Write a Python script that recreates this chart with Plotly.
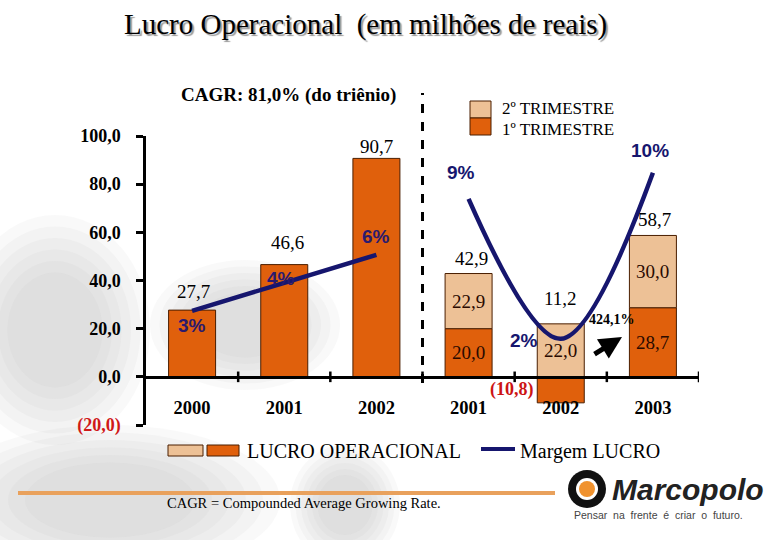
import plotly.graph_objects as go

# ---------------- data ----------------
cat_labels = ["2000", "2001", "2002", "2001", "2002", "2003"]
annual_x = [0, 1, 2]
annual_vals = [27.7, 46.6, 90.7]
h1_x = [3, 4, 5]
q1_vals = [20.0, -10.8, 28.7]      # 1º trimestre
q2_vals = [22.9, 22.0, 30.0]       # 2º trimestre
h1_totals = [42.9, 11.2, 58.7]
margin_annual = [3.3, 4.7, 6.1]
margin_h1 = [8.9, 1.9, 10.2]
margin_annual_lbl = ["3%", "4%", "6%"]
margin_h1_lbl = ["9%", "2%", "10%"]
ytick_vals = [-20, 0, 20, 40, 60, 80, 100]
ytick_text = ['<span style="color:#d01818">(20,0)</span>', "0,0", "20,0", "40,0", "60,0", "80,0", "100,0"]

def br(v):
    s = f"{abs(v):.1f}".replace(".", ",")
    return f"({s})" if v < 0 else s

# ---------------- geometry helpers ----------------
W, H = 780, 540
L, R, T, B = 146, 81, 136, 115
PW, PH = W - L - R, H - T - B
YMIN, YMAX = -20, 100
PX_PER_UNIT = PH / (YMAX - YMIN)
K = 20 / PX_PER_UNIT            # y units per 1 % of margin

def PX(px):
    return (px - L) / PW

def PY(py):
    return (H - B - py) / PH

SERIF = "Liberation Serif"
SANS = "Liberation Sans"
ORANGE = "#E0600C"
LIGHT = "#EDC196"
EDGE = "#4a1e00"
NAVY = "#16166e"

fig = go.Figure()

fig.add_trace(go.Bar(x=annual_x, y=annual_vals, width=0.51, name="LUCRO OPERACIONAL",
                     marker=dict(color=ORANGE, line=dict(color=EDGE, width=1)), showlegend=False))
fig.add_trace(go.Bar(x=h1_x, y=q1_vals, width=0.51, name="1º TRIMESTRE",
                     marker=dict(color=ORANGE, line=dict(color=EDGE, width=1)), showlegend=False))
fig.add_trace(go.Bar(x=h1_x, y=q2_vals, width=0.51, name="2º TRIMESTRE",
                     marker=dict(color=LIGHT, line=dict(color=EDGE, width=1)), showlegend=False))

fig.add_trace(go.Scatter(x=annual_x, y=margin_annual, yaxis="y2", mode="lines",
                         line=dict(color=NAVY, width=4.5, shape="spline"), showlegend=False,
                         name="Margem LUCRO"))
fig.add_trace(go.Scatter(x=h1_x, y=margin_h1, yaxis="y2", mode="lines",
                         line=dict(color=NAVY, width=4.5, shape="spline"), showlegend=False,
                         name="Margem LUCRO"))

ann = []

def A(**kw):
    kw.setdefault("showarrow", False)
    kw.setdefault("xanchor", "center")
    kw.setdefault("yanchor", "middle")
    ann.append(kw)

def AP(px, py, text, **kw):
    A(x=PX(px), y=PY(py), xref="paper", yref="paper", text=text, **kw)

# total labels above bars
tot_shift = [(1, 19), (3, 22), (0, 12)]
for x, v, (dx, dy) in zip(annual_x, annual_vals, tot_shift):
    A(x=x, y=v, text=br(v), xshift=dx, yshift=dy, font=dict(family=SERIF, size=19, color="black"))
h1_tot_shift = [(3, 15), (0, 25), (2, 16)]
for x, q1, q2, t, (dx, dy) in zip(h1_x, q1_vals, q2_vals, h1_totals, h1_tot_shift):
    top = q2 + max(q1, 0)
    A(x=x, y=top, text=br(t), xshift=dx, yshift=dy, font=dict(family=SERIF, size=19, color="black"))
# segment labels
for x, q1, q2 in zip(h1_x, q1_vals, q2_vals):
    if q1 >= 0:
        A(x=x, y=q1 / 2, text=br(q1), font=dict(family=SERIF, size=19, color="#2a0a00"))
        A(x=x, y=q1 + q2 / 2, text=br(q2), font=dict(family=SERIF, size=19, color="#2a0a00"))
    else:
        A(x=x - 0.255, y=q1 / 2, text="<b>" + br(q1) + "</b>", xanchor="right", xshift=-1,
          font=dict(family=SERIF, size=18, color="#cc1414"))
        A(x=x, y=q2 / 2, text=br(q2), font=dict(family=SERIF, size=19, color="#2a0a00"))

# margin labels
m_shift_a = [(0, -15), (-3, 4), (0, 18)]
for x, m, t, (dx, dy) in zip(annual_x, margin_annual, margin_annual_lbl, m_shift_a):
    A(x=x, y=m, yref="y2", text="<b>" + t + "</b>", xshift=dx, yshift=dy,
      font=dict(family=SANS, size=19, color="#2a1a6e"))
m_shift_h = [(-8, 26), (-37, -2), (-3, 22)]
for x, m, t, (dx, dy) in zip(h1_x, margin_h1, margin_h1_lbl, m_shift_h):
    A(x=x, y=m, yref="y2", text="<b>" + t + "</b>", xshift=dx, yshift=dy,
      font=dict(family=SANS, size=19, color=NAVY))

# growth label + arrow
AP(612, 319, "<b>424,1%</b>", font=dict(family=SERIF, size=14, color="black"))
ann.append(dict(x=PX(622), y=PY(337), xref="paper", yref="paper", text="", showarrow=True,
                ax=-29, ay=18, arrowhead=2, arrowsize=0.9, arrowwidth=5, arrowcolor="black"))

# titles
title = "Lucro Operacional  (em milhões de reais)"
AP(365, 24, title, font=dict(family=SERIF, size=29, color="black", shadow="2px 2px 1px #9a9a9a"))
AP(288, 95, "<b>CAGR: 81,0% (do triênio)</b>", font=dict(family=SERIF, size=19, color="black"))

# top legend
AP(500, 109, "2º TRIMESTRE", xanchor="left", font=dict(family=SERIF, size=17, color="black"))
AP(500, 129, "1º TRIMESTRE", xanchor="left", font=dict(family=SERIF, size=17, color="black"))
# bottom legend
AP(245, 451, "LUCRO OPERACIONAL", xanchor="left", font=dict(family=SERIF, size=20, color="black"))
AP(518, 451, "Margem LUCRO", xanchor="left", font=dict(family=SERIF, size=20, color="black"))
AP(165, 503, "CAGR = Compounded Average Growing Rate.", xanchor="left",
   font=dict(family=SERIF, size=14.5, color="black"))
# logo text
AP(610, 489, "<b><i>Marcopolo</i></b>", xanchor="left", font=dict(family=SANS, size=30, color="#222222"))
AP(572, 515, "Pensar  na  frente  é  criar  o  futuro.", xanchor="left",
   font=dict(family=SANS, size=10.5, color="#444444"))

shapes = []
# soft background blobs
blobs = [(110, 500, 170, 75), (345, 505, 55, 60), (55, 330, 95, 115), (245, 325, 95, 65)]
for cx, cy, rx, ry in blobs:
    for f in (1.0, 0.9, 0.8, 0.7, 0.6, 0.5):
        shapes.append(dict(type="circle", xref="paper", yref="paper", layer="below",
                           x0=PX(cx - rx * f), x1=PX(cx + rx * f), y0=PY(cy + ry * f), y1=PY(cy - ry * f),
                           fillcolor="rgba(170,170,170,0.07)", line=dict(width=0)))
# boundary ticks on the category axis
for i in range(len(cat_labels)):
    b = i + 0.5
    shapes.append(dict(type="line", xref="x", yref="y", x0=b, x1=b, y0=-2.2, y1=2.2,
                       line=dict(color="black", width=2.5)))
# dashed separator
shapes.append(dict(type="line", xref="x", yref="paper", x0=2.5, x1=2.5, y0=PY(383), y1=PY(93),
                   line=dict(color="black", width=3, dash="dash")))
# top legend boxes
shapes.append(dict(type="rect", xref="paper", yref="paper", x0=PX(470), x1=PX(491), y0=PY(118), y1=PY(101),
                   fillcolor=LIGHT, line=dict(color=EDGE, width=1)))
shapes.append(dict(type="rect", xref="paper", yref="paper", x0=PX(470), x1=PX(491), y0=PY(135), y1=PY(118),
                   fillcolor=ORANGE, line=dict(color=EDGE, width=1)))
# bottom legend boxes and line
shapes.append(dict(type="rect", xref="paper", yref="paper", x0=PX(168), x1=PX(203), y0=PY(456), y1=PY(445),
                   fillcolor=LIGHT, line=dict(color=EDGE, width=1)))
shapes.append(dict(type="rect", xref="paper", yref="paper", x0=PX(207), x1=PX(239), y0=PY(456), y1=PY(445),
                   fillcolor=ORANGE, line=dict(color=EDGE, width=1)))
shapes.append(dict(type="line", xref="paper", yref="paper", x0=PX(481), x1=PX(515), y0=PY(449), y1=PY(449),
                   line=dict(color=NAVY, width=4)))
# orange rule
shapes.append(dict(type="line", xref="paper", yref="paper", x0=PX(18), x1=PX(555), y0=PY(493), y1=PY(493),
                   line=dict(color="#E9A15C", width=4)))
# logo icon
shapes.append(dict(type="circle", xref="paper", yref="paper", x0=PX(568), x1=PX(606), y0=PY(508), y1=PY(470),
                   fillcolor="#111111", line=dict(width=0)))
shapes.append(dict(type="circle", xref="paper", yref="paper", x0=PX(576), x1=PX(598), y0=PY(500), y1=PY(478),
                   fillcolor="white", line=dict(width=0)))
shapes.append(dict(type="circle", xref="paper", yref="paper", x0=PX(579), x1=PX(595), y0=PY(497), y1=PY(481),
                   fillcolor="#F0922E", line=dict(width=0)))

fig.update_layout(
    width=W, height=H,
    margin=dict(l=L, r=R, t=T, b=B, autoexpand=False),
    paper_bgcolor="white", plot_bgcolor="rgba(0,0,0,0)",
    barmode="relative", bargap=0.49,
    showlegend=False,
    xaxis=dict(range=[-0.5, len(cat_labels) - 0.5], tickvals=list(range(len(cat_labels))), ticktext=cat_labels,
               anchor="free", position=(0 - YMIN) / (YMAX - YMIN), automargin=False,
               showline=True, linecolor="black", linewidth=2.5, ticks="", showgrid=False, zeroline=False,
               tickfont=dict(family=SERIF, size=18.5, color="black", weight="bold"), ticklabelstandoff=13),
    yaxis=dict(range=[YMIN, YMAX], tickvals=ytick_vals, ticktext=ytick_text, automargin=False,
               showline=True, linecolor="black", linewidth=2.5, ticks="outside", ticklen=7, tickwidth=2.5,
               tickcolor="black", showgrid=False, zeroline=False,
               tickfont=dict(family=SERIF, size=18, color="black", weight="bold"), ticklabelstandoff=12),
    yaxis2=dict(range=[YMIN / K, YMAX / K], overlaying="y", visible=False),
    annotations=ann, shapes=shapes,
)

fig.write_html("out.html", config={"displayModeBar": False},
               post_script="document.body.style.margin='0px';")
